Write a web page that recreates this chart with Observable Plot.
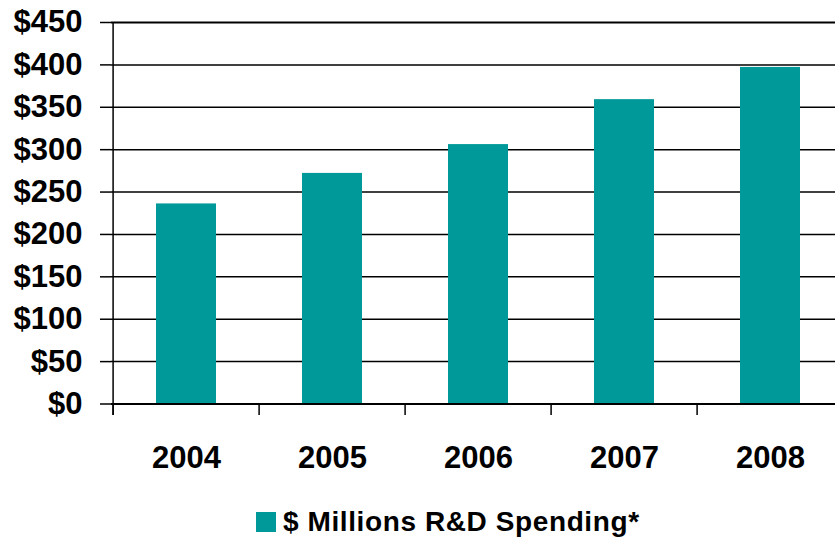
<!DOCTYPE html>
<html>
<head>
<meta charset="utf-8">
<script src="https://cdn.jsdelivr.net/npm/d3@7"></script>
<script src="https://cdn.jsdelivr.net/npm/@observablehq/plot@0.6"></script>
<style>
  html, body { margin: 0; padding: 0; background: #fff; overflow: hidden; }
  body { position: relative; width: 835px; height: 545px; font-family: "Liberation Sans", Arial, sans-serif; }
  #legend { position: absolute; left: 256px; top: 506px; display: flex; align-items: center; font-weight: bold; font-size: 28px; letter-spacing: 0.6px; color: #000; }
  #legend .sw { width: 20px; height: 20px; background: #009999; margin-right: 7px; }
</style>
</head>
<body>
<div id="chart"></div>
<div id="legend"><span class="sw"></span><span>$ Millions R&amp;D Spending*</span></div>
<script>
const years = ["2004", "2005", "2006", "2007", "2008"];
const spending = [236, 272, 306, 359, 397];
const yTicks = [0, 50, 100, 150, 200, 250, 300, 350, 400, 450];
const seriesName = "$ Millions R&D Spending*";

const data = years.map((year, i) => ({year, value: spending[i]}));

const W = 835, H = 495, mL = 111, mR = -10, mT = 22, mB = 91.5;
const halfStep = (W - mL - mR) / years.length / 2;
const teal = "#009999";

const chart = Plot.plot({
  width: W,
  height: H,
  marginLeft: mL,
  marginRight: mR,
  marginTop: mT,
  marginBottom: mB,
  style: {fontFamily: "'Liberation Sans', Arial, sans-serif", color: "#000", background: "#fff"},
  x: {domain: years, paddingInner: 0.59, paddingOuter: 0.295, label: null},
  y: {domain: [0, 450], label: null},
  marks: [
    Plot.ruleY(yTicks.filter(d => d > 0 && d < 450), {y: d => d, stroke: "#000", strokeWidth: 1.5}),
    Plot.ruleY([450], {stroke: "#000", strokeWidth: 2}),
    Plot.barY(data, {x: "year", y: "value", fill: teal}),
    Plot.ruleY([0], {stroke: "#000", strokeWidth: 2}),
    // category boundary ticks below the axis (and the left axis line)
    Plot.ruleX(years, {x: d => d, dx: -halfStep, y1: 0, y2: -13.5, stroke: "#000", strokeWidth: 1.5}),
    Plot.ruleX([years[0]], {x: d => d, dx: -halfStep, y1: -13.5, y2: 450, stroke: "#000", strokeWidth: 1.5}),
    Plot.axisY(yTicks, {tickSize: 11, tickPadding: 18, tickFormat: d => "$" + d, fontSize: 31, fontWeight: "bold", stroke: "#000", strokeWidth: 1.5}),
    Plot.axisX({tickSize: 0, tickPadding: 42, fontSize: 31, fontWeight: "bold"})
  ]
});
document.getElementById("chart").appendChild(chart);
</script>
</body>
</html>
